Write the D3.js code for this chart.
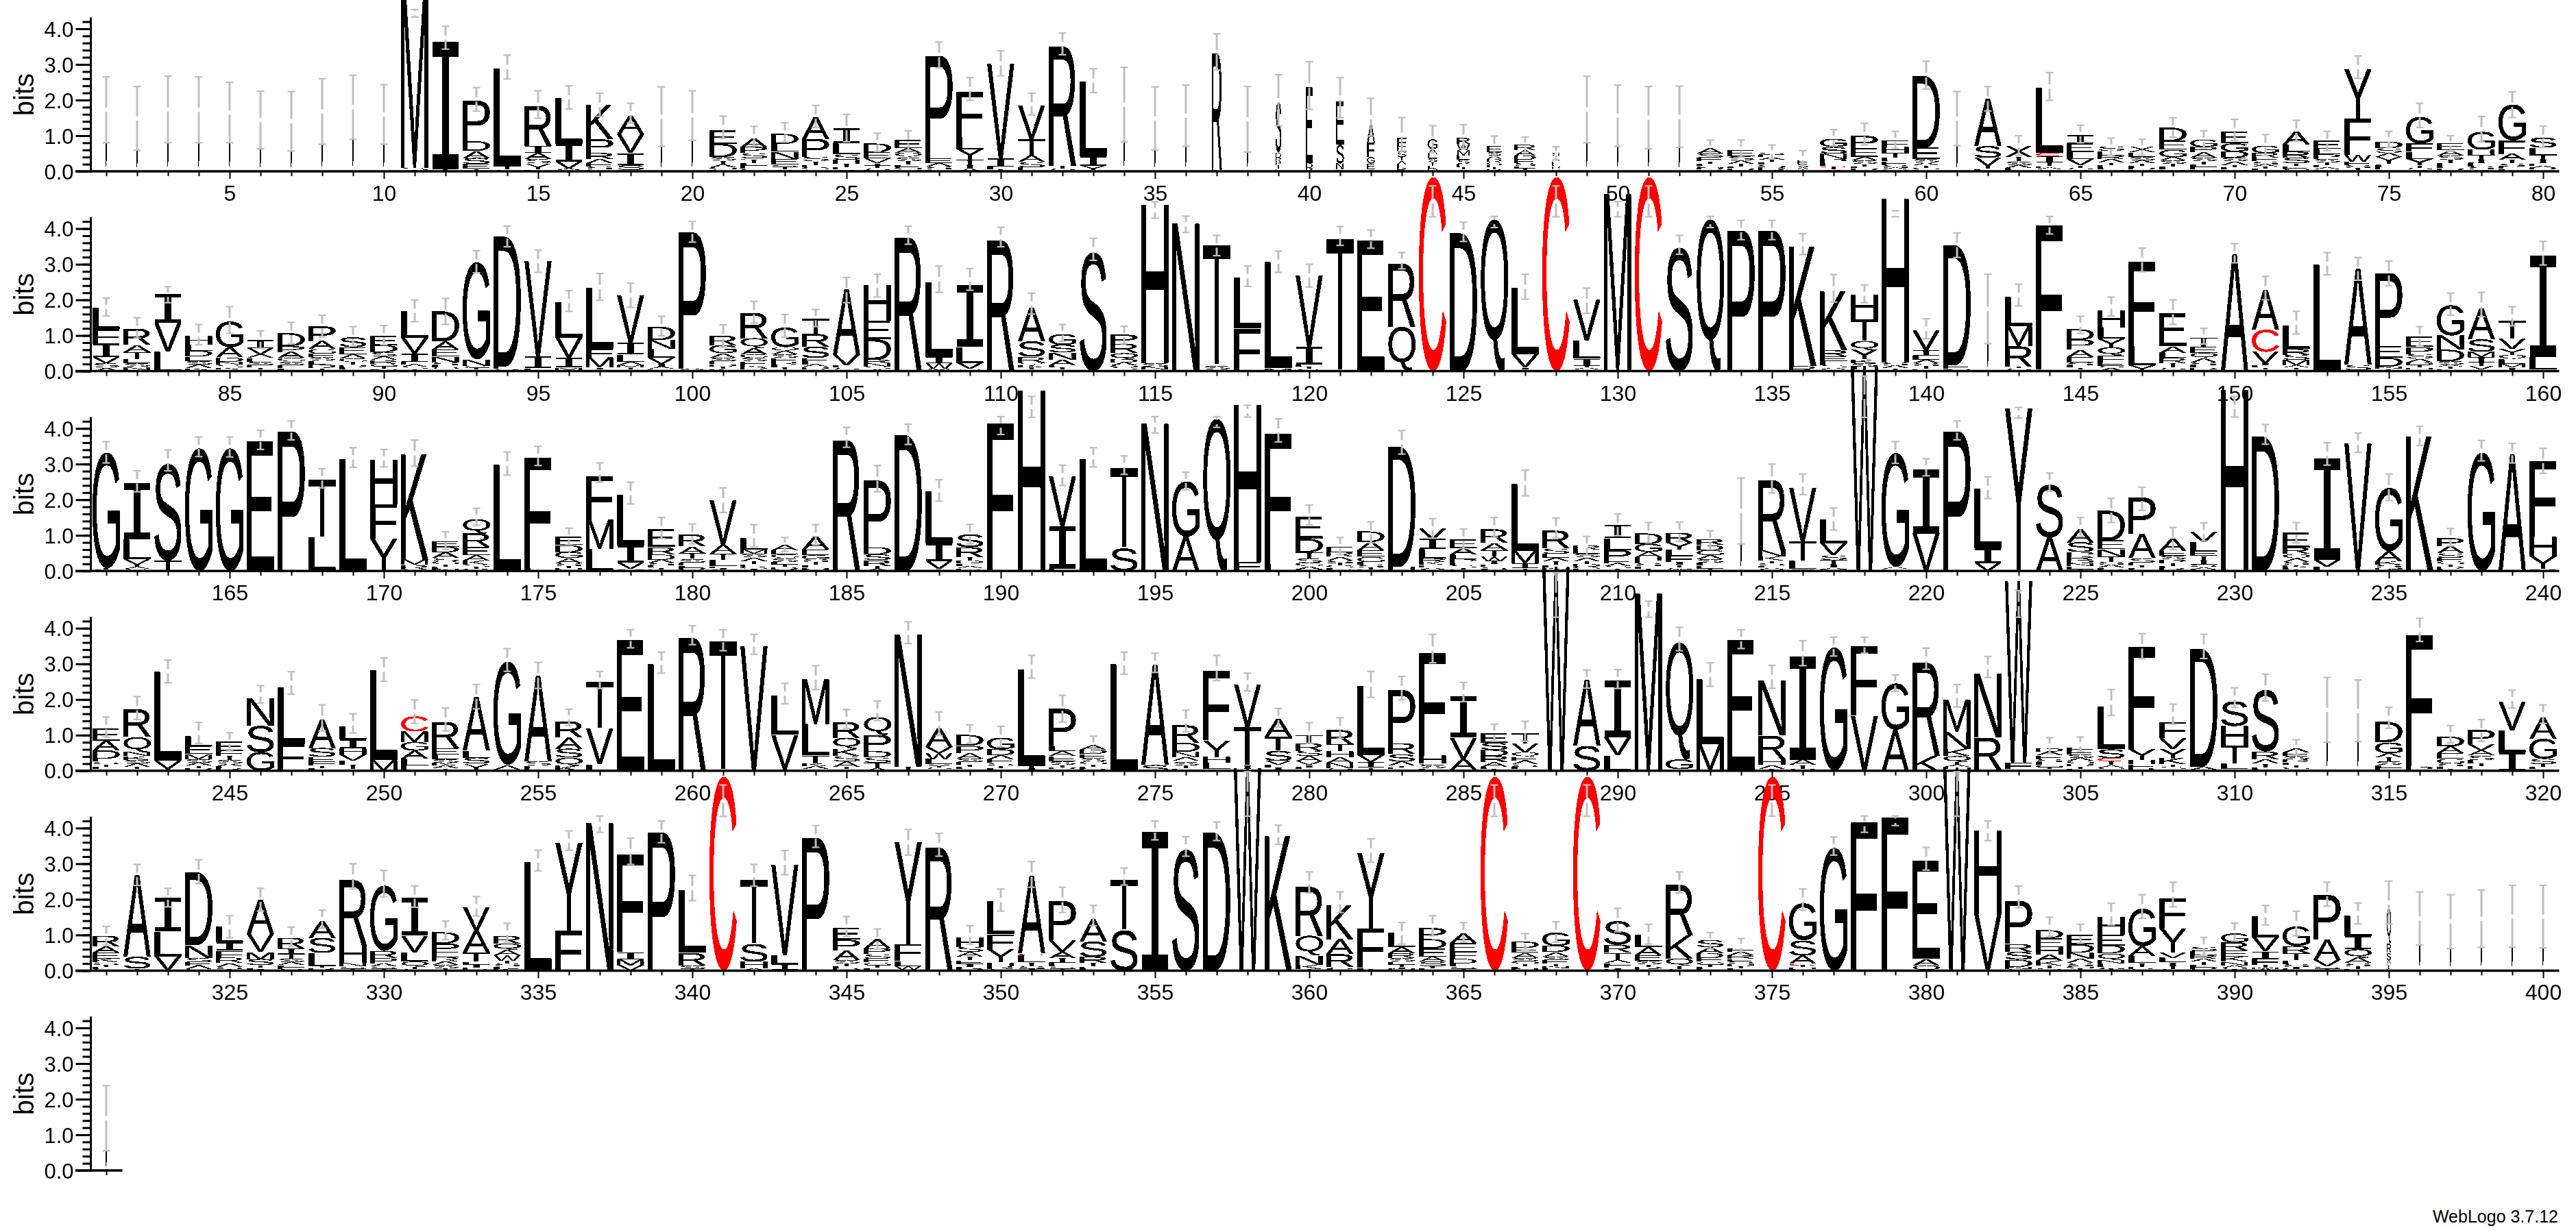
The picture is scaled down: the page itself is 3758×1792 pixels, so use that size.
<!DOCTYPE html>
<html><head><meta charset="utf-8">
<script src="https://cdn.jsdelivr.net/npm/d3@7"></script>
<style>html,body{margin:0;padding:0;background:#fff}svg{display:block}</style>
</head><body><svg id="logo" width="3758" height="1792"><defs><filter id="hard" filterUnits="userSpaceOnUse" x="0" y="0" width="3758" height="1792" color-interpolation-filters="sRGB"><feComponentTransfer><feFuncA type="discrete" tableValues="0 1 1"/></feComponentTransfer></filter><filter id="hardSmall" filterUnits="userSpaceOnUse" x="0" y="0" width="3758" height="1792" color-interpolation-filters="sRGB"><feComponentTransfer><feFuncA type="discrete" tableValues="0 1"/></feComponentTransfer></filter></defs></svg>
<script>
// Each entry: letters top to bottom with their bits | error bar top | error bar bottom | stack width fraction
const row1 = [
"M1.72|2.65|.8|.04","M1.48|2.38|.59|.04","M1.73|2.67|.8|.04","M1.72|2.65|.8|.04","M1.65|2.5|.8|.04","M1.44|2.25|.63|.04","M1.4|2.24|.57|.04","M1.68|2.6|.76|.04","M1.8|2.7|.9|.04","C.1 M1.5|2.43|.76|.04",
"M4.9 S.06 T.04|4.54|4.33","I3.58 T.06|4.07|3.43","P1.14 D.27 A.2 S.17 E.13 T.07|2.35|1.69","L2.76 T.08 S.05|3.26|2.59","R1.14 I.2 A.17 S.12 V.1 T.07 L.05|2.26|1.49","L1.3 I.5 V.2 A.04 E.03|2.4|1.75","K.97 P.38 R.17 A.12 E.1 S.08 G.05|2.19|1.54","A.52 V.52 I.33 S.14 C.02 T.02|1.91|1.36","M1.52|2.37|.7|.04","M1.56|2.26|.87|.04",
"E.38 D.37 S.1 T.1 A.08 G.07 L.05|1.55|.93","A.25 P.17 S.15 C.03 T.1 L.08 E.08 G.07|1.26|.72","D.28 L.22 N.2 E.16 S.07 T.07 A.05|1.36|.82","A.62 P.5 S.13 T.1 E.07 G.06 L.05|1.85|1.23","I.42 L.3 S.15 H.12 T.1 E.06 A.05|1.6|.83","D.24 E.18 V.13 I.07 T.07 S.05 L.04|1.07|.56","E.22 A.13 Q.13 S.1 T.1 L.07 G.07 D.05|1.14|.54","P2.88 E.13 A.1 S.08 L.05|3.63|2.9","F1.27 L.35 Y.3 T.15 I.1 A.07|2.63|1.99","V2.65 I.22 L.08 T.06|3.38|2.68",
"V.95 T.47 A.18 S.15 E.08 L.03|2.19|1.58","R3.4 T.08 S.05 L.03|3.88|3.27","L2.1 I.26 V.08 T.05 A.03|2.88|2.21","M1.87|2.92|.82|.04","M1.48|2.37|.6|.04","M1.56|2.42|.7|.04","R3.3 T.05|3.86|2.84|.37","M1.46|2.38|.54|.04","S1.42 D.14 R.12 P.1 T.1 E.07|2.71|1.28|.2","E2.13 D.14 P.1|3.08|1.74|.25",
"E1.22 S.53 N.17 A.05|2.63|1.5|.28","A.55 F.4 G.17 C.02 E.16 T.05|2.05|.99|.28","F.25 E.15 S.15 T.1 A.1 L.1 R.1|1.51|.55|.35","G.27 A.15 E.12 S.1 T.1 L.08 D.08|1.28|.53|.37","R.17 W.17 M.15 E.12 S.12 L.1 T.06 A.05|1.31|.64|.48","E.18 S.1 A.1 D.08 G.08 L.06 T.06 R.06|.99|.42|.55","R.15 A.15 D.12 E.1 S.08 L.07 T.05 G.03|.96|.54|.8","S.08 T.08 A.07 E.07 L.07 D.05 G.05 R.05|.69|.32|.3","M1.74|2.67|.8|.04","M1.56|2.42|.7|.04",
"M1.5|2.38|.63|.04","M1.53|2.39|.67|.04","A.15 S.12 E.1 T.07 L.06 G.05 D.05 R.05|.88|.44","E.17 S.12 A.09 T.08 L.05 D.05 G.04|.88|.4","S.07 E.07 A.07 T.07 L.07 G.07 D.06 R.06|.74|.34","E.1 S.1 A.06 T.06|.58|.15|.4","G.22 S.19 N.15 P.12 F.08 C.03 T.07 A.05|1.17|.71","P.34 E.25 A.1 S.1 T.07 L.05 D.05 G.04|1.35|.74","F.2 H.17 T.13 L.1 E.1 S.08 A.05 D.05|1.12|.64","D2.03 E.32 S.1 A.07 T.07 G.05 L.05|3.09|2.31",
"M1.48|2.24|.72|.04","A1.33 S.33 V.23 T.08 L.07|2.38|1.69","X.3 T.12 S.1 A.08 L.06 E.04|1.0|.45","L1.83 C.1 I.17 T.1 E.05 A.05 S.05|2.77|1.99","I.22 E.25 L.2 V.17 T.07 S.05 A.05|1.29|.8","S.13 E.12 R.1 A.1 T.07 F.07 L.06 D.05|.93|.45","X.15 E.12 S.1 A.08 T.07 L.06 D.05 R.05|.9|.45","D.38 E.24 G.2 A.1 S.1 T.08 L.08 R.05|1.5|.96","G.2 P.15 A.15 S.1 T.08 L.08 E.07 D.05|1.14|.64","E.33 G.23 D.18 S.1 A.1 T.07 L.06 N.05|1.46|.87",
"G.2 R.14 E.1 S.08 A.07 T.06 L.04 D.03|1.03|.45","A.37 L.2 R.17 S.16 T.07 E.07 G.05 D.03|1.43|.85","E.22 L.15 P.13 S.1 T.08 F.06 A.06 R.05|1.12|.58","Y1.38 F1.02 W.2 E.1 S.08 T.06 L.03|3.24|2.61","D.18 S.13 A.11 V.1 T.1 C.03 L.07 E.06 G.05|1.12|.67","G.75 F.22 L.2 Y.18 T.07 S.05 A.05|1.91|1.23","E.2 A.14 S.12 T.1 F.08 L.06 D.05 G.04|1.0|.56","G.5 H.15 T.13 I.1 L.1 S.08 A.05|1.54|.83","G1.0 F.38 A.17 T.1 S.08 E.07 L.07|2.23|1.51","S.28 L.2 T.13 I.1 E.07 A.06 D.05 G.05|1.27|.67"
];
const row2 = [
"L.6 F.42 I.38 V.17 S.12 A.1|2.05|1.55","R.45 A.2 T.2 E.12 S.1 N.08 Q.04|1.5|.93","I.8 V.8 L.55|2.37|1.92","H.24 L.18 D.16 E.12 S.1 A.1 K.05 T.04|1.31|.74","G.72 A.28 D.12 N.08 C.03 S.06 K.05 T.05|1.81|1.06","I.22 V.18 A.1 L.1 S.1 E.07 T.05 M.05|1.13|.64","D.36 P.17 A.17 G.1 S.1 E.08 L.05 T.04|1.37|.77","P.42 A.22 G.13 E.1 S.1 L.1 D.1 T.09|1.57|.96","S.27 E.2 A.12 G.1 T.08 D.07 L.06 P.05|1.25|.7","E.27 D.2 S.12 A.1 R.1 G.08 T.07 N.06|1.28|.74",
"L.75 V.44 I.22 E.08 A.07 S.06 T.06|2.0|1.39","D.84 A.22 E.2 N.16 S.08 L.07 Q.05 T.05|2.04|1.31","G2.72 N.18 S.06 T.05 D.04|3.38|2.76","D3.65 E.07 G.06|4.07|3.49","V2.68 I.33 L.05 T.03|3.4|2.77","L1.0 V.57 I.27 M.07 F.03|2.26|1.68","L1.72 F.24 M.28 I.05 V.05|2.74|1.99","V1.33 I.33 L.2 A.1 M.07 T.05 S.05|2.47|1.79","D.37 N.25 L.25 V.17 I.08 A.06 E.06|1.54|.99","P3.82 A.05 S.03|4.2|3.62",
"R.27 G.22 A.12 S.1 E.08 D.07 T.06 K.05 L.02|1.3|.67","R.73 Q.28 A.17 G.1 S.1 E.1 K.06 D.06 T.05|1.96|1.35","G.55 Q.1 A.1 S.1 E.1 R.08 L.08 T.06 Y.05|1.59|.95","T.42 R.36 S.32 E.1 L.08 A.07 D.07 G.05|1.73|1.25","A1.85 V.3 L.06 S.05 I.05|2.63|1.92","H1.0 E.52 D.58 R.1 N.1 S.06 A.06|2.72|2.08","R3.8|4.07|3.56","L2.1 I.17 W.15 V.04 Q.03|2.95|2.21","I1.73 L.45 V.17 A.03 M.03|2.88|2.27","R3.72|4.04|3.49",
"A.95 S.43 R.15 Q.07 K.07 T.06 N.05|2.19|1.6","G.3 S.22 N.2 A.16 L.06 T.06 D.04|1.31|.83","S3.38|3.73|3.11","P.26 R.26 Q.16 D.1 A.08 G.07 S.06 T.04|1.26|.77","H4.45 S.1 N.08 T.05|4.75|4.29","N4.15|4.35|3.89","T3.38 S.1 A.05|3.81|3.24","L1.42 F1.2|2.95|2.38","L2.98 M.08|3.37|2.77","V2.0 I.5 L.06 T.06 S.06|3.0|2.36",
"T3.72|4.06|3.53","E3.68|3.96|3.45","R1.8 Q1.25|3.33|2.87","C5.45|5.2|4.33","D3.88|4.18|3.64","Q4.25|4.34|4.03","L1.87 V.37 I.05 M.05|2.72|2.02","C5.45|5.2|4.33","V1.15 L.5 I.2 T.05 A.05 F.05|2.33|1.62","M4.98|4.76|4.33",
"C5.45|5.2|4.33","S3.52|3.81|3.28","Q4.25|4.34|4.03","P3.95|4.23|3.69","P3.95|4.23|3.69","K3.35 R.15|3.86|3.27","K1.65 R.17 E.13 F.13 S.06 A.05 T.05|2.71|1.94","H.7 T.6 Q.25 Y.27 K.1 S.1 L.08 A.05|2.42|1.92","H4.6 S.08 A.08 T.08|4.5|4.33","V.55 I.15 L.12 A.1 S.08 T.08 E.06|1.47|.91",
"D3.38 E.1 N.06|3.88|3.19","M1.72|2.72|.77|.04","L.82 M.55 R.58 T.05 S.05 A.03|2.44|1.83","F4.05 L.05|4.34|3.85","D.3 P.28 A.2 E.15 S.08 L.07 T.05 N.05|1.54|1.06","H.48 L.32 Y.24 Q.22 F.2 E.1 S.05 A.1|2.08|1.55","F2.35 L.55 Y.17|3.45|2.79","E.92 A.18 L.15 R.15 T.12 S.05 N.05|2.0|1.31","T.26 E.17 Q.14 A.12 S.08 L.07 D.06 N.04|1.2|.76","A3.3|3.58|3.04",
"A1.12 C.62 V.33 I.06 L.06 T.05 S.05|2.66|2.0","L.65 R.17 S.15 M.15 A.06 T.05 E.05|1.68|1.04","L3.0|3.33|2.7","A2.7 S.15 T.03|3.19|2.55","P2.05 E.33 D.25 N.06 T.06|3.09|2.4","E.28 P.2 S.13 A.1 D.08 T.07 N.05 L.05|1.25|.7","G.85 N.4 D.32 S.1 A.06 T.06 E.06|2.19|1.57","A.87 S.35 M.15 I.15 T.1 V.1 L.05|2.21|1.53","T.5 V.28 Y.17 Q.13 L.13 M.1 I.1|1.81|1.27","I2.85 L.35 V.05|3.64|2.98"
];
const row3 = [
"G3.25 T.04 S.04|3.63|3.03","I1.58 L.55 V.15 T.06 A.06 S.06|2.81|2.22","S2.75 T.3|3.39|2.81","G3.45|3.76|3.21","G3.45|3.76|3.2","E3.65|3.95|3.41","P3.92|4.21|3.68","T1.62 L.95|2.87|2.33","L3.14|3.46|2.91","H1.25 F.97 Y.9|3.41|2.92",
"K2.96 M.15 R.12 S.05|3.67|2.94","E.16 D.16 A.16 S.09 G.08 T.07 L.06 N.06|1.1|.6","Q.4 R.38 E.22 A.15 K.12 S.06 T.06 G.06|1.76|1.28","L2.98|3.34|2.69","F3.1 L.08|3.5|2.96","E.22 D.2 G.17 A.14 S.08 T.06 N.04 L.04|1.2|.73","F1.22 M.83 L.62|3.03|2.49","L1.42 I.48 V.17 A.03 M.03|2.49|1.88","E.5 R.2 D.15 A.08 S.08 L.06 T.05 G.05|1.5|.91","R.33 A.2 T.15 S.1 E.08 L.07 D.05 G.04|1.32|.76",
"V1.25 A.25 T.17 L.17 F.05 I.05 S.04|2.33|1.64","L.32 M.12 S.1 A.1 T.09 E.07 G.06 I.06|1.3|.67","A.15 E.12 G.1 S.1 L.08 T.07 D.06 V.05|.94|.54","A.37 E.15 G.12 S.08 T.08 L.07 D.05 N.05|1.3|.73","R3.72|4.03|3.47","P1.88 D.2 S.16 R.16 T.08 A.06|2.96|2.22","D3.82|4.12|3.55","L1.47 I.5 V.22 T.03 S.03|2.56|1.96","S.36 R.28 T.1 D.08 L.07 A.06 E.05 G.03|1.31|.76","F4.15|4.33|3.83",
"H5.08|4.9|4.31","V1.4 I1.2 L.06|2.97|2.4","L3.15|3.46|2.92","T2.25 S.65|3.23|2.71","N4.14|4.33|3.87","G1.55 A.97|2.77|2.28","Q4.28|4.33|4.03","H4.42 F.25|4.65|4.32","F3.65 L.2|4.27|3.62","E.62 D.38 T.17 S.12 G.1 A.08 N.05|1.85|1.29",
"E.15 R.13 A.1 S.08 T.07 G.06 L.05 D.04|.94|.46","D.3 A.24 E.18 G.14 L.08 S.08 T.06 N.04|1.38|.79","D3.38 H.12|3.94|3.28","V.3 I.28 L.26 R.1 K.08 E.07 A.05 S.05|1.47|.92","E.25 A.17 L.13 P.1 F.08 S.06 T.05 G.05|1.18|.63","R.38 A.2 T.18 W.13 I.09 E.07 S.07 L.05|1.5|.95","L1.88 M.35 I.13 T.05 V.03|2.83|2.11","R.5 S.15 E.12 A.1 T.1 L.07 N.07 D.03|1.49|.92","R.12 E.12 S.1 A.1 T.08 D.08 G.06 L.06|.97|.44","I.37 L.33 P.27 E.1 A.08 S.06 T.05 G.03|1.6|.99",
"D.3 G.22 A.15 H.1 E.08 S.08 L.07 T.06|1.36|.79","R.28 Y.2 L.18 F.17 I.08 T.07 S.05 A.05|1.37|.83","R.16 D.14 G.14 A.12 S.1 L.08 E.08 T.07|1.13|.6","C.08 M1.6|2.61|.76|.04","R2.0 N.18 K.12 T.07 S.07 L.05 A.05 Q.05|3.0|2.19","V1.5 T.55 L.22 S.03 A.03|2.72|2.14","L.67 V.33 S.13 T.13 I.08 A.05 M.05|1.77|1.15","W5.75|5.47|4.31","G3.2 A.05 E.03 Q.03|3.63|3.02","I1.8 V1.05|3.15|2.67",
"P3.92|4.21|3.68","L1.68 I.42 V.22|2.64|2.03","Y4.57|4.59|4.29","S1.5 A.95|2.75|2.24","A.38 S.27 P.12 R.1 D.1 N.08 E.08 T.05|1.5|.96","D.84 E.24 N.2 T.15 S.08 A.08 L.05 R.05|2.04|1.36","P1.02 A.68 S.12 E.08 T.06 L.05 G.05|2.35|1.7","A.35 E.14 S.1 P.1 T.08 L.06 R.04 D.04|1.22|.6","V.28 L.27 E.13 T.12 I.12 S.07 A.06 R.05|1.35|.84","H5.1|4.9|4.32",
"D3.78|4.11|3.56","E.42 R.18 Q.13 A.1 S.08 K.07 L.06 T.04|1.36|.79","I2.85 V.2 L.12|3.6|2.97","V3.58|3.87|3.33","G1.78 A.28 K.1 S.08 N.05 T.05|2.72|1.98","K3.78|4.06|3.52","P.22 A.2 S.13 E.1 G.08 T.07 D.06 L.06|1.19|.7","G3.33|3.66|3.09","A3.27|3.58|3.03","F2.12 H.55 Y.35 S.03 N.03|3.44|2.74"
];
const row4 = [
"E.35 A.28 D.23 F.08 S.07 T.07 L.07 G.05|1.51|.95","R.78 Q.42 N.12 K.1 S.1 A.1 T.06 E.05|2.08|1.44","L2.5 V.22 T.03 I.03|3.11|2.47","L.28 E.22 M.14 S.1 A.08 T.07 D.05 I.03|1.36|.77","E.26 F.14 T.12 S.1 A.07 L.06 R.04 D.03|1.07|.56","N.77 S.75 G.52|2.39|1.9","L1.6 F.72 S.03|2.78|2.15","A.8 S.25 E.14 F.1 T.07 L.05 D.03|1.85|1.12","L.37 I.25 H.17 V.17 F.12 T.12 S.05|1.6|1.06","L2.52 M.3|3.17|2.51",
"C.42 M.3 G.24 A.22 L.2 F.12 T.03|1.99|1.33","R.75 E.17 L.13 S.1 K.08 A.08 T.07|1.76|1.12","A1.5 L.2 S.17 V.1 T.06 G.04|2.42|1.74","G2.9 A.12 S.04|3.43|2.79","A2.4 S.12 F.07 E.05 T.03|3.04|2.31","R.45 A.32 S.25 Q.22 K.15|1.73|1.27","T1.3 V1.0 L.18|2.79|2.31","E3.67|3.96|3.45","L3.0|3.33|2.74","R3.78|4.07|3.54",
"T3.63|3.96|3.37","V3.5|3.83|3.27","L1.1 V.95 T.03 A.03|2.45|1.88","M1.27 L.88 T.22 K.08 A.08 S.05|2.95|2.28","R.45 Q.3 K.2 S.15 A.15 T.07 D.05|1.72|1.19","Q.5 P.45 D.17 S.15 T.15 A.08|1.96|1.41","N3.72 T.12|4.18|3.57","A.52 V.17 W.17 L.15 Y.08 S.05 I.05|1.65|.99","D.3 P.2 A.15 S.1 E.08 T.06 L.06 G.05|1.29|.77","G.32 D.17 A.12 E.1 S.07 T.07 L.05 P.03|1.25|.67",
"L2.72 T.06 I.05 V.03|3.24|2.6","P1.05 L.14 A.14 E.14 S.1 T.07 D.05 G.05|2.12|1.37","A.13 D.12 E.1 S.1 G.08 T.07 L.06 R.06|.97|.51","L3.0|3.33|2.71","A2.82 S.17|3.3|2.76","R.5 D.25 N.15 A.1 X.03 S.1 T.08 E.07|1.7|1.09","F1.95 Y.47 H.17 L.17 T.05|3.24|2.53","V1.2 T1.08 I.1 L.05|2.74|2.24","A.5 T.38 S.28 V.12 L.08 I.06 M.03|1.75|1.22","T.22 R.22 S.15 A.15 V.1 I.06 L.05 E.05|1.35|.77",
"R.4 T.2 H.17 A.15 N.15 S.05 K.03|1.49|.91","L1.95 V.2 I.15 T.05 M.04|2.79|2.06","P1.5 R.3 S.2 A.12 T.05 E.05 L.05|2.65|1.99","F2.9 H.22 C.03 S.1 L.07|3.83|3.03","I1.15 V.6 A.3 T.03|2.48|1.94","E.27 S.2 D.17 R.17 A.13 L.06 T.06|1.31|.83","T.3 V.25 Q.13 E.1 A.1 S.07 L.07 I.05|1.39|.83","W5.72|5.56|4.31","A1.85 S.7|2.83|2.32","I1.6 V.5 L.43|2.84|2.31",
"M4.98|4.76|4.31","Q3.3 G.27 A.05|4.03|3.37","L1.82 M.75|3.03|2.37","E3.68|3.96|3.43","N1.55 R.67 H.17 A.1 T.06|2.96|2.31","I2.9 A.15 T.1 V.06|3.65|2.95","G3.46|3.75|3.22","F1.95 V1.55|3.75|3.3","G1.3 A1.15|2.69|2.23","R2.65 K.42|3.44|2.85",
"M.9 N.48 K.2 Q.16 T.08 A.06 E.06 S.05|2.42|1.79","N1.8 R.9 T.03|3.21|2.62","W5.1 F.17 S.05|5.06|4.31","D.1 A.1 E.1 S.08 L.08 G.07 T.05 N.05|.93|.48","F.1 E.1 S.1 A.08 G.08 D.07 T.07 L.06|.95|.54","L1.2 S.25 C.1 T.1 A.06 G.05 E.05|2.28|1.55","F2.9 Y.3 H.12 E.1 R.08|3.85|3.14","F.45 V.3 Y.27 K.17 T.07 S.06 L.05|1.87|1.31","D3.32 A.08 L.03|3.83|3.15","S.7 H.55 T.5 L.15 A.05|2.33|1.78",
"S1.75 R.22 A.12 T.1 L.06 G.04|2.71|1.96","A.12 E.1 S.1 R.08 L.07 T.07 G.05 D.05|.87|.45","M1.7|2.62|.8|.04","M1.68|2.55|.82|.04","D.57 G.3 A.12 T.12 S.1 L.08 E.08|1.78|1.19","F3.7 P.12|4.28|3.63","D.27 A.2 E.15 G.13 S.08 L.07 T.06|1.27|.78","P.4 V.17 A.14 S.12 L.1 T.08 E.08 I.05|1.44|.83","V.8 L.62 I.52|2.26|1.76","A.6 G.56 S.15 T.08 L.06 V.05|1.85|1.33"
];
const row5 = [
"R.3 A.17 E.17 K.11 S.07 T.06 L.06 G.04|1.24|.71","A2.3 S.33 T.03 L.03|2.98|2.39","I.95 L.7 V.4|2.31|1.79","D2.05 N.35 S.12 E.1 A.1 G.04|3.11|2.44","L.45 I.23 F.2 R.15 A.1 S.07 T.04|1.54|.92","A.97 V.5 M.2 S.17 T.07 L.05 I.03|2.31|1.67","R.3 I.15 T.13 S.1 A.08 L.07 E.05 V.04|1.22|.67","A.48 S.42 L.37 T.05 R.05 G.03|1.7|1.19","R1.85 H.5 N.1 S.07 T.05|3.0|2.29","G1.83 R.2 P.15 A.08 S.07 T.05|2.81|2.07",
"I1.05 V.47 L.25 Q.14 T.07 S.05|2.38|1.78","D.32 P.23 E.15 R.12 A.1 S.1 T.06|1.39|.87","V.66 A.62 T.25 L.08 I.08 E.06 C.03|2.08|1.53","R.22 Q.17 A.15 W.15 T.08 S.08 L.07 K.05|1.33|.8","L3.05|3.38|2.8","Y2.47 F1.12|3.92|3.38","N4.15|4.34|3.88","F2.74 I.2 M.17 V.15|3.72|2.98","P3.88|4.2|3.59","L1.75 R.35 S.1 T.05|2.67|1.96",
"C5.45|5.21|4.33","T1.8 S.5 H.2 A.06|2.98|2.37","V2.55 L.25 I.15 T.03|3.37|2.69","P3.73|4.07|3.46","E.32 P.3 A.27 S.1 T.08 L.06 D.06|1.52|.96","A.26 P.16 S.13 E.1 G.08 T.07 L.05 D.03|1.17|.61","Y2.87 F.47 L.14 W.1 T.03|3.96|3.24","R3.5|3.85|3.21","H.27 S.15 A.13 T.1 E.1 I.08 L.06 P.05|1.26|.74","L.92 F.43 Y.36 H.1 R.08 S.05|2.29|1.67",
"A2.17 C.05 L.2 T.1 S.08 I.05|3.06|2.34","P1.1 V.32 A.17 I.14 L.1 S.07 T.05|2.34|1.63","A.63 S.43 R.17 T.1 E.07 L.05|1.83|1.26","T1.4 S1.15|2.88|2.4","I3.9|4.2|3.67","S3.45|3.76|3.21","D3.88|4.17|3.65","W5.7|5.58|4.33","K3.78|4.08|3.54","R1.4 Q.55 N.25 K.12 T.05|2.77|2.18",
"K.97 A.42 R.36 S.05 L.05|2.21|1.63","Y2.12 F1.1 L.05 T.03|3.7|3.04","L.4 A.17 R.14 S.1 E.08 T.07 I.05 N.05|1.35|.74","P.32 D.26 E.22 A.14 S.14 T.06 L.06|1.54|.98","A.27 E.24 F.2 D.13 L.08 S.07 T.05|1.35|.8","C5.45|5.21|4.33","D.17 E.14 A.14 S.1 G.07 T.07 L.07 N.05|1.04|.58","G.37 D.18 A.12 S.1 E.1 T.07 N.07 L.06|1.37|.8","C5.45|5.21|4.33","S.67 R.22 T.2 A.08 L.07 E.07 I.05 K.03|1.75|1.09",
"L.35 A.23 E.16 S.1 T.07 D.06 G.05|1.3|.74","R1.44 K.65 Q.2 T.08 S.05|2.77|2.18","S.2 A.16 D.14 E.1 G.08 T.07 L.06 K.04|1.07|.61","F.1 A.1 R.1 E.07 S.07 D.07 T.06 L.06|.9|.48","C5.45|5.21|4.33","G1.03 S.42 A.23 C.05 T.05 N.05 L.05|2.29|1.69","G3.45|3.75|3.24","F4.17|4.34|3.88","F4.3|4.34|4.07","E2.75 A.18 Q.15|3.46|2.82",
"W5.7|5.58|4.33","H2.35 V1.58|4.2|3.65","P1.2 R.22 S.22 D.2 N.06 S.05|2.37|1.76","D.22 E.24 H.22 A.17 K.13 T.08 S.07|1.5|.96","E.27 D.23 N.17 A.12 S.08 G.07 T.06|1.3|.77","H.5 E.3 D.22 Q.18 N.1 L.1 S.05 T.05|1.89|1.28","G1.05 A.27 L.2 T.1 E.06 S.05|2.13|1.47","F.85 Y.68 V.15 L.13 I.1 T.08 S.05|2.48|1.79","S.13 E.12 R.1 A.08 T.08 L.08 D.05 G.04|.93|.43","G.25 R.23 E.17 K.14 N.1 A.06 S.05 T.04|1.33|.83",
"L.6 V.4 I.2 F.17 T.08 M.05 A.04|1.83|1.28","G.55 R.2 T.2 L.1 S.08 I.06 E.05|1.67|.98","P1.25 A.58 V.18 S.07 T.05|2.48|1.81","L.57 I.37 Q.24 A.15 S.08 T.08 E.05|1.9|1.31","Q1.0 R.25 S.2 A.1 C.05 T.1 E.05|2.51|1.31|.15","M1.46|2.21|.72|.04","M1.38|2.13|.62|.04","M1.46|2.26|.65|.04","M1.52|2.39|.66|.04","M1.5|2.39|.64|.04"
];
const row6 = ["M1.41|2.38|.55|.04"];
const rows = [row1, row2, row3, row4, row5, row6];
const positionsPerRow = 80;
const majorBits = [0, 1, 2, 3, 4];
const minorBits = d3.range(0, 4.21, 0.2);
const creditText = "WebLogo 3.7.12";

const SANS = '"Liberation Sans"', MONO = '"Liberation Mono"';
const LEFT = 132.5, FIRST = 155, PITCH = 45, LETTER_W = 40, PX_PER_BIT = 52, AXIS_TOP_BITS = 4.32;
const svg = d3.select("#logo");
const meas = document.createElement("canvas").getContext("2d");
const glyphCache = {};
function glyph(ch) {
  if (glyphCache[ch]) return glyphCache[ch];
  const fam = ch === "I" ? MONO : SANS;
  meas.font = "100px " + fam;
  const m = meas.measureText(ch);
  return (glyphCache[ch] = {fam, l: -m.actualBoundingBoxLeft, r: m.actualBoundingBoxRight, a: m.actualBoundingBoxAscent, d: m.actualBoundingBoxDescent});
}
function parse(s) {
  const [lt, t, b, w] = s.split("|");
  const letters = lt.split(" ").map(x => ({ch: x[0], bits: +x.slice(1)}));
  return {letters, top: +t, bot: +b, w: w === undefined ? 1 : +w};
}

rows.forEach((row, ri) => {
  const base = 250 + 291.6 * ri;
  const startPos = ri * positionsPerRow + 1;
  const endPos = startPos + positionsPerRow - 1;
  const y = d3.scaleLinear().domain([0, AXIS_TOP_BITS]).range([base, base - AXIS_TOP_BITS * PX_PER_BIT]);
  const x = d3.scaleLinear().domain([startPos, endPos]).range([FIRST, FIRST + PITCH * (positionsPerRow - 1)]);
  const g = svg.append("g");

  // stacks: tiny letters get a harder threshold, so their strokes stay sparse hairlines
  const stacks = g.append("g").attr("filter", "url(#hard)");
  const tiny = g.append("g").attr("filter", "url(#hardSmall)");
  const ebars = g.append("g").attr("stroke", "#bebebe").attr("fill", "none");
  row.map(parse).forEach((st, i) => {
    const pos = startPos + i, cx = x(pos), W = LETTER_W * st.w;
    let cum = 0;
    st.letters.slice().reverse().forEach(L => {
      const y0 = y(cum), y1 = y(cum + L.bits);
      cum += L.bits;
      const gl = glyph(L.ch);
      const sx = W / (gl.r - gl.l), sy = (y0 - y1) / (gl.a + gl.d);
      (L.bits < 0.16 ? tiny : stacks).append("text").text(L.ch)
        .attr("font-family", gl.fam).attr("font-size", 100)
        .attr("text-rendering", "geometricPrecision")
        .attr("fill", L.ch === "C" ? "#ff0000" : "#000000")
        .attr("transform", `translate(${cx - W / 2 - gl.l * sx},${y0 - gl.d * sy}) scale(${sx},${sy})`);
    });
    // error bar
    const mid = (st.top + st.bot) / 2, gap = 0.06;
    const eb = ebars.append("g");
    eb.append("line").attr("x1", cx).attr("x2", cx).attr("y1", y(st.top)).attr("y2", y(mid + gap)).attr("stroke-width", 3);
    eb.append("line").attr("x1", cx).attr("x2", cx).attr("y1", y(mid - gap)).attr("y2", y(st.bot)).attr("stroke-width", 3);
    [st.top, st.bot].forEach(v => eb.append("line").attr("x1", cx - 5.5).attr("x2", cx + 5.5).attr("y1", y(v)).attr("y2", y(v)).attr("stroke-width", 2.2));
  });

  // y axis
  const yAxisG = g.append("g").attr("transform", `translate(${LEFT},0)`);
  yAxisG.append("g").call(d3.axisLeft(y).tickValues(minorBits).tickSize(12).tickFormat("").tickSizeOuter(0))
    .call(s => s.select(".domain").remove())
    .selectAll("line").attr("stroke", "#000").attr("stroke-width", 3);
  yAxisG.append("g").call(d3.axisLeft(y).tickValues(majorBits).tickSize(22).tickPadding(3).tickFormat(d3.format(".1f")).tickSizeOuter(0))
    .call(s => s.select(".domain").remove())
    .call(s => s.selectAll("line").attr("stroke", "#000").attr("stroke-width", 3))
    .call(s => s.selectAll("text").attr("font-family", SANS).attr("font-size", 31).attr("fill", "#000").attr("dy", "0.36em"));
  yAxisG.append("line").attr("y1", y(0) + 1.5).attr("y2", y(AXIS_TOP_BITS)).attr("stroke", "#000").attr("stroke-width", 3);

  // x axis
  const n = row.length;
  const majorPos = d3.range(startPos, startPos + n).filter(p => p % 5 === 0);
  const minorPos = d3.range(startPos, startPos + n).filter(p => p % 5 !== 0);
  const xG = g.append("g").attr("transform", `translate(0,${base})`);
  xG.append("g").call(d3.axisBottom(x).tickValues(minorPos).tickSize(7).tickFormat("").tickSizeOuter(0))
    .call(s => s.select(".domain").remove())
    .selectAll("line").attr("stroke", "#000").attr("stroke-width", 2);
  xG.append("g").call(d3.axisBottom(x).tickValues(majorPos).tickSize(11).tickFormat(d3.format("d")).tickSizeOuter(0))
    .call(s => s.select(".domain").remove())
    .call(s => s.selectAll("line").attr("stroke", "#000").attr("stroke-width", 2))
    .call(s => s.selectAll("text").attr("font-family", SANS).attr("font-size", 32).attr("fill", "#000").attr("y", 43).attr("dy", 0));
  xG.append("line").attr("x1", 110).attr("x2", x(startPos + n - 1) + PITCH / 2 + 1).attr("stroke", "#000").attr("stroke-width", 3.5);

  // y label
  g.append("text").text("bits").attr("font-family", SANS).attr("font-size", 40).attr("text-anchor", "middle")
    .attr("transform", `translate(49,${base - 112}) rotate(-90)`);
});

svg.append("text").text(creditText).attr("x", 3732).attr("y", 1784).attr("text-anchor", "end")
  .attr("font-family", SANS).attr("font-size", 25).attr("fill", "#000");
</script>
</body></html>
